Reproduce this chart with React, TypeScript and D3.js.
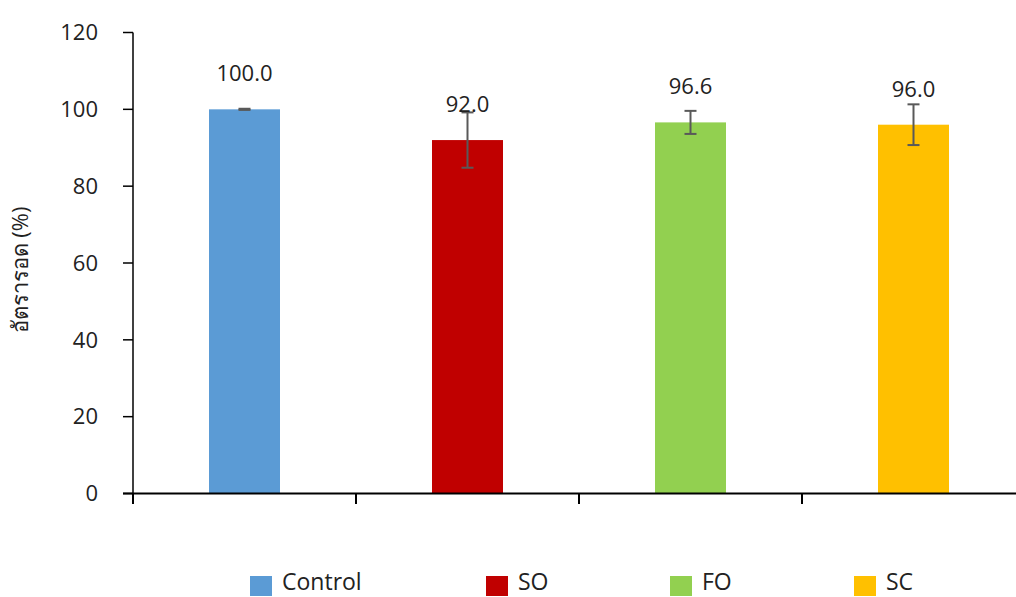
import React from "react";
import * as d3 from "d3";

const categories = ["Control", "SO", "FO", "SC"];
const values = [100.0, 92.0, 96.6, 96.0];
const errors = [0.15, 7.2, 3.0, 5.3];
const colors = ["#5B9BD5", "#C00000", "#92D050", "#FFC000"];
const yTicks = [0, 20, 40, 60, 80, 100, 120];
const yTitle = "อัตรารอด (%)";

const W = 1016;
const H = 597;
const FONT = "'Open Sans', 'Noto Sans', sans-serif";

export default function App() {
  const left = 133;
  const bandW = 223;
  const x = d3
    .scaleBand<string>()
    .domain(categories)
    .range([left, left + bandW * categories.length])
    .paddingInner(0.682)
    .paddingOuter(0.341);
  const y = d3.scaleLinear().domain([0, 120]).range([493.5, 32.5]);
  const bw = 71;
  const center = (c: string) => (x(c) as number) + x.bandwidth() / 2;
  const legendX = [250, 486, 670, 854];

  return (
    <svg
      width={W}
      height={H}
      style={{ position: "absolute", left: 0, top: 0, fontFamily: FONT }}
    >
      <rect width={W} height={H} fill="#fff" />
      {categories.map((c, i) => (
        <rect
          key={c}
          x={center(c) - bw / 2}
          y={y(values[i])}
          width={bw}
          height={y(0) - y(values[i])}
          fill={colors[i]}
        />
      ))}
      {categories.map((c, i) => {
        const cx = center(c);
        const t = y(values[i] + errors[i]);
        const b = y(values[i] - errors[i]);
        return (
          <g key={c} stroke="#595959" strokeWidth={2}>
            <line x1={cx} x2={cx} y1={t} y2={b} />
            <line x1={cx - 6} x2={cx + 6} y1={t} y2={t} />
            <line x1={cx - 6} x2={cx + 6} y1={b} y2={b} />
          </g>
        );
      })}
      {categories.map((c, i) => (
        <text
          key={c}
          x={center(c)}
          y={y(values[i]) - 28}
          textAnchor="middle"
          fontSize={22}
          fill="#222"
        >
          {values[i].toFixed(1)}
        </text>
      ))}
      <line x1={left} x2={left} y1={y(120)} y2={y(0)} stroke="#000" strokeWidth={1.5} />
      {yTicks.map((t) => (
        <g key={t}>
          <line x1={123} x2={left} y1={y(t)} y2={y(t)} stroke="#000" strokeWidth={1.5} />
          <text x={98} y={y(t)} dy="0.35em" textAnchor="end" fontSize={22} fill="#222">
            {t}
          </text>
        </g>
      ))}
      <line x1={123} x2={W} y1={y(0)} y2={y(0)} stroke="#000" strokeWidth={2} />
      {[0, 1, 2, 3].map((k) => (
        <line
          key={k}
          x1={left + k * bandW}
          x2={left + k * bandW}
          y1={y(0)}
          y2={504}
          stroke="#000"
          strokeWidth={2}
        />
      ))}
      <text
        transform={`translate(28,270) rotate(-90)`}
        textAnchor="middle"
        fontSize={22}
        fill="#222"
      >
        {yTitle}
      </text>
      {categories.map((c, i) => (
        <g key={c}>
          <rect x={legendX[i]} y={576} width={22} height={20} fill={colors[i]} />
          <text x={legendX[i] + 32} y={590} fontSize={23} fill="#222">
            {c}
          </text>
        </g>
      ))}
    </svg>
  );
}
